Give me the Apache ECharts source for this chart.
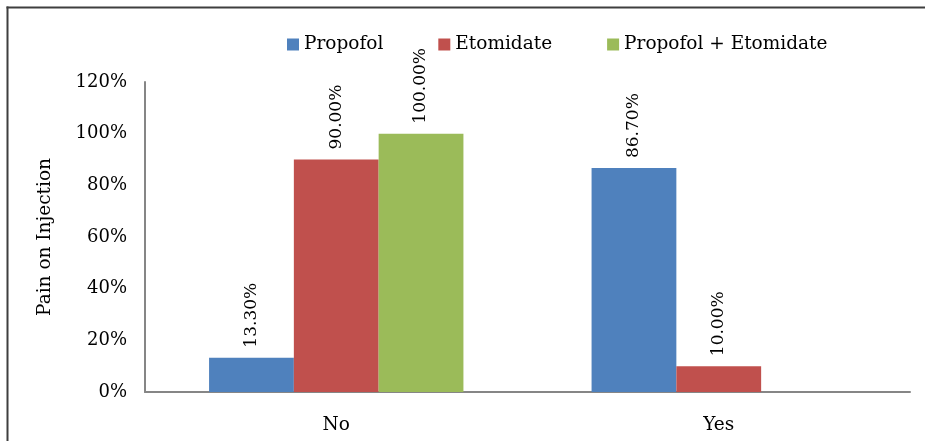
<!DOCTYPE html>
<html>
<head>
<meta charset="utf-8">
<script src="https://cdn.jsdelivr.net/npm/echarts@6/dist/echarts.min.js"></script>
<style>
  html, body { margin: 0; padding: 0; background: #fff; overflow: hidden; }
  #chart { width: 925px; height: 441px; }
</style>
</head>
<body>
<div id="chart"></div>
<script>
// Pain on injection by induction agent (percent of patients)
const categories = ['No', 'Yes'];
const seriesNames = ['Propofol', 'Etomidate', 'Propofol + Etomidate'];
const propofol = [13.3, 86.7];
const etomidate = [90.0, 10.0];
const propofolEtomidate = [100.0, 0];
const yTicks = [0, 20, 40, 60, 80, 100, 120];

const colors = ['#4F81BD', '#C0504D', '#9BBB59'];
const FONT = 'DejaVu Serif';

const chart = echarts.init(document.getElementById('chart'), null, { renderer: 'canvas' });

function barSeries(name, values, color) {
  return {
    name: name,
    type: 'bar',
    data: values,
    itemStyle: { color: color },
    barGap: '0%',
    barCategoryGap: '33.5%',
    label: {
      show: true,
      position: 'top',
      rotate: 90,
      align: 'left',
      verticalAlign: 'middle',
      distance: 10,
      color: '#000',
      fontFamily: FONT,
      fontSize: 17,
      formatter: p => (p.value === 0 ? '' : p.value.toFixed(2) + '%')
    }
  };
}

// frame edges along the left and top of the figure
const frameStyle = { stroke: '#3f3f3f', lineWidth: 2 };

chart.setOption({
  animation: false,
  textStyle: { fontFamily: FONT },
  graphic: [
    { type: 'line', shape: { x1: 7.5, y1: 6.5, x2: 7.5, y2: 441 }, style: frameStyle, silent: true },
    { type: 'line', shape: { x1: 6.5, y1: 7.5, x2: 925, y2: 7.5 }, style: frameStyle, silent: true }
  ],
  legend: {
    data: seriesNames,
    left: 282,
    top: 30,
    itemWidth: 12,
    itemHeight: 12,
    itemGap: 55,
    icon: 'rect',
    textStyle: { fontFamily: FONT, fontSize: 18.5, color: '#000' }
  },
  grid: { left: 145, right: 15, top: 82, bottom: 49, containLabel: false },
  xAxis: {
    type: 'category',
    data: categories,
    axisLine: { lineStyle: { color: '#868686', width: 2 } },
    axisTick: { show: false },
    axisLabel: { color: '#000', fontFamily: FONT, fontSize: 18.5, margin: 24 }
  },
  yAxis: {
    type: 'value',
    min: yTicks[0],
    max: yTicks[yTicks.length - 1],
    interval: yTicks[1] - yTicks[0],
    name: 'Pain on Injection',
    nameLocation: 'middle',
    nameGap: 90,
    nameRotate: 90,
    nameTextStyle: { color: '#000', fontFamily: FONT, fontSize: 18.5 },
    axisLine: { show: true, lineStyle: { color: '#868686', width: 2 } },
    axisTick: { show: false },
    splitLine: { show: false },
    axisLabel: { color: '#000', fontFamily: FONT, fontSize: 18, margin: 18, formatter: v => v + '%' }
  },
  series: [
    barSeries(seriesNames[0], propofol, colors[0]),
    barSeries(seriesNames[1], etomidate, colors[1]),
    barSeries(seriesNames[2], propofolEtomidate, colors[2])
  ]
});
</script>
</body>
</html>
